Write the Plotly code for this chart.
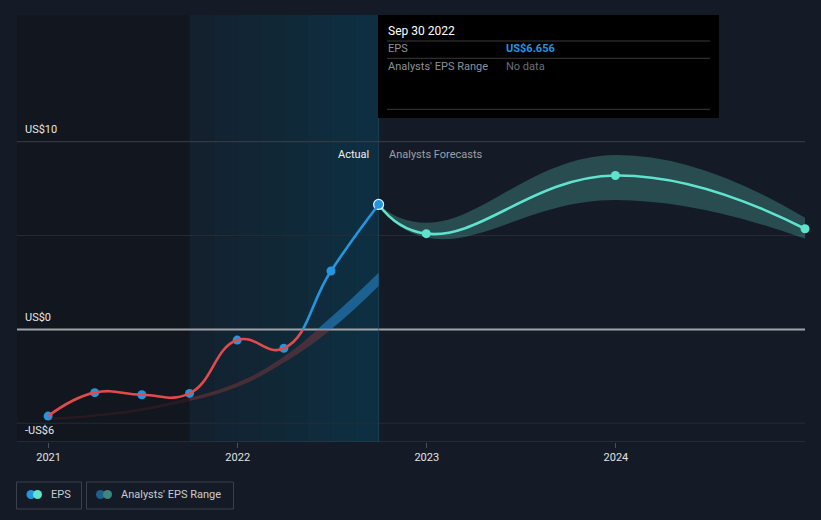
import plotly.graph_objects as go

# ---------------- data ----------------
eps_dates = ["2020-12-31", "2021-03-31", "2021-06-30", "2021-09-30",
             "2021-12-31", "2022-03-31", "2022-06-30", "2022-09-30"]
eps_values = [-4.62, -3.37, -3.48, -3.41, -0.57, -1.01, 3.11, 6.656]

hist_range_low = [-4.83, -4.65, -4.35, -3.82, -3.07, -1.77, 0.00, 2.31]
hist_range_high = [-4.70, -4.53, -4.19, -3.64, -2.84, -1.45, 0.64, 3.02]

fc_dates = ["2022-09-30", "2022-12-31", "2023-12-31", "2024-12-31"]
fc_values = [6.656, 5.10, 8.20, 5.36]
fc_low = [6.656, 4.89, 6.89, 4.83]
fc_high = [6.656, 5.68, 9.29, 5.95]

year_ticks = ["2021-01-01", "2022-01-01", "2023-01-01", "2024-01-01"]
year_labels = ["2021", "2022", "2023", "2024"]
y_labels = [(10, "US$10"), (0, "US$0"), (-6, "-US$6")]

# ---------------- geometry ----------------
W, H = 821, 520
L, R, T, B = 17, 16, 15, 78
PW, PH = W - L - R, H - T - B
Y0, Y1 = -6, 16.75
Z = (0 - Y0) / (Y1 - Y0)
X_RANGE = ["2020-11-01", "2024-12-31"]

BG = "#151b26"
RED = "#e04c4c"
BLUE = "#2496e0"
TURQ = "#5fe3cc"
SM = 1.3


def px(x):
    return (x - L) / PW


def py(y):
    return (T + PH - y) / PH


def sline(width=0, color=None):
    d = dict(width=width, shape="spline", smoothing=SM, simplify=False)
    if color:
        d["color"] = color
    return d


fig = go.Figure()

# historical range band (red part clipped to negatives on y3, blue part clipped to positives on y2)
seg = [(0, 4, "rgba(190,60,60,0.14)"), (3, 8, "rgba(200,65,65,0.30)")]
for a, b, col in seg:
    fig.add_trace(go.Scatter(x=eps_dates[a:b], y=hist_range_low[a:b], yaxis="y3",
                             mode="lines", line=sline(),
                             hoverinfo="skip", showlegend=False))
    fig.add_trace(go.Scatter(x=eps_dates[a:b], y=hist_range_high[a:b], yaxis="y3",
                             mode="lines", line=sline(),
                             fill="tonexty", fillcolor=col, hoverinfo="skip", showlegend=False))
fig.add_trace(go.Scatter(x=eps_dates, y=hist_range_low, yaxis="y2", mode="lines",
                         line=sline(), hoverinfo="skip", showlegend=False))
fig.add_trace(go.Scatter(x=eps_dates, y=hist_range_high, yaxis="y2", mode="lines",
                         line=sline(), fill="tonexty", fillcolor="rgba(40,140,215,0.55)",
                         hoverinfo="skip", showlegend=False))

# forecast band
fig.add_trace(go.Scatter(x=fc_dates, y=fc_low, mode="lines", line=sline(),
                         hoverinfo="skip", showlegend=False))
fig.add_trace(go.Scatter(x=fc_dates, y=fc_high, mode="lines", line=sline(),
                         fill="tonexty", fillcolor="rgba(88,205,190,0.28)",
                         hoverinfo="skip", showlegend=False))

# EPS line, red below zero, blue above zero
fig.add_trace(go.Scatter(x=eps_dates, y=eps_values, yaxis="y3", mode="lines",
                         line=sline(2.6, RED), hoverinfo="skip", showlegend=False))
fig.add_trace(go.Scatter(x=eps_dates, y=eps_values, yaxis="y2", mode="lines",
                         line=sline(2.6, BLUE), hoverinfo="skip", showlegend=False))

# forecast line
fig.add_trace(go.Scatter(x=fc_dates, y=fc_values, mode="lines",
                         line=sline(2.6, TURQ), hoverinfo="skip", showlegend=False))
fig.add_trace(go.Scatter(x=fc_dates[1:], y=fc_values[1:], mode="markers",
                         marker=dict(size=9, color=TURQ, line=dict(width=0)), cliponaxis=False,
                         hoverinfo="skip", showlegend=False))

# EPS markers
fig.add_trace(go.Scatter(x=eps_dates[:-1], y=eps_values[:-1], mode="markers",
                         marker=dict(size=9, color=BLUE, line=dict(width=0)), cliponaxis=False,
                         hoverinfo="skip", showlegend=False))
fig.add_trace(go.Scatter(x=eps_dates[-1:], y=eps_values[-1:], mode="markers",
                         marker=dict(size=10, color=BLUE, line=dict(color="#e8f4ff", width=1.2)),
                         cliponaxis=False, hoverinfo="skip", showlegend=False))

shapes = []
# darker past region
shapes.append(dict(type="rect", xref="x", yref="paper", x0=X_RANGE[0], x1="2021-09-30",
                   y0=0, y1=1, fillcolor="rgba(0,0,0,0.18)", line_width=0, layer="below"))
# teal gradient region (strips)
strip_dates = ["2021-09-30", "2021-11-15", "2021-12-31", "2022-02-15", "2022-03-31",
               "2022-05-15", "2022-06-30", "2022-08-15", "2022-09-30"]
for i in range(len(strip_dates) - 1):
    a = 0.14 + 0.045 * i
    shapes.append(dict(type="rect", xref="x", yref="paper", x0=strip_dates[i],
                       x1=strip_dates[i + 1], y0=0, y1=1,
                       fillcolor=f"rgba(5,72,98,{a:.3f})", line_width=0, layer="below"))
# gridlines
for yv, col, w in [(10, "#3a404b", 1), (5, "#262c37", 1), (-5, "#262c37", 1),
                   (-6, "#3a404b", 1), (0, "#a0a4aa", 2)]:
    shapes.append(dict(type="line", xref="paper", yref="y", x0=0, x1=1, y0=yv, y1=yv,
                       line=dict(color=col, width=w), layer="below"))
# vertical current-date line
shapes.append(dict(type="line", xref="x", yref="paper", x0="2022-09-30", x1="2022-09-30",
                   y0=0, y1=py(15), line=dict(color="rgba(30,80,100,0.6)", width=1),
                   layer="below"))
# tooltip box
shapes.append(dict(type="rect", xref="paper", yref="paper", x0=px(378), x1=px(719),
                   y0=py(118), y1=py(15), fillcolor="#000000", line_width=0, layer="above"))
for yy in [41, 58.3, 109.3]:
    shapes.append(dict(type="line", xref="paper", yref="paper", x0=px(387), x1=px(710),
                       y0=py(yy), y1=py(yy), line=dict(color="#3a3a3a", width=1),
                       layer="above"))
# legend boxes
for x0, x1 in [(16.5, 81.5), (86.5, 233.5)]:
    shapes.append(dict(type="rect", xref="paper", yref="paper", x0=px(x0), x1=px(x1),
                       y0=py(509), y1=py(482), line=dict(color="#3b414c", width=1),
                       fillcolor="rgba(0,0,0,0)"))
for cx, col in [(31, BLUE), (37.5, TURQ), (100.5, "#1f5f8c"), (107.5, "#3e877e")]:
    shapes.append(dict(type="circle", xref="paper", yref="paper",
                       x0=px(cx - 4.5), x1=px(cx + 4.5), y0=py(499), y1=py(490),
                       fillcolor=col, line_width=0))

ann = []
for yv, txt in y_labels:
    ypix = T + PH * (Y1 - yv) / (Y1 - Y0)
    ypos = ypix - 12
    ann.append(dict(x=px(23), y=py(ypos), xref="paper", yref="paper", text=txt,
                    showarrow=False, xanchor="left", yanchor="middle",
                    font=dict(size=11, color="#e6e8ea")))
ann.append(dict(x=px(371), y=py(154), xref="paper", yref="paper", text="Actual",
                showarrow=False, xanchor="right", yanchor="middle",
                font=dict(size=11, color="#f0f0f0")))
ann.append(dict(x=px(387), y=py(154), xref="paper", yref="paper", text="Analysts Forecasts",
                showarrow=False, xanchor="left", yanchor="middle",
                font=dict(size=11, color="#9aa0a8")))
# tooltip text
ann.append(dict(x=px(386), y=py(31), xref="paper", yref="paper", text="Sep 30 2022",
                showarrow=False, xanchor="left", yanchor="middle",
                font=dict(size=12, color="#ffffff")))
ann.append(dict(x=px(386), y=py(48.5), xref="paper", yref="paper", text="EPS",
                showarrow=False, xanchor="left", yanchor="middle",
                font=dict(size=11, color="#8c9198")))
ann.append(dict(x=px(504), y=py(48.5), xref="paper", yref="paper", text="<b>US$6.656</b>",
                showarrow=False, xanchor="left", yanchor="middle",
                font=dict(size=11, color=BLUE)))
ann.append(dict(x=px(386), y=py(66.5), xref="paper", yref="paper", text="Analysts' EPS Range",
                showarrow=False, xanchor="left", yanchor="middle",
                font=dict(size=11, color="#8c9198")))
ann.append(dict(x=px(504), y=py(66.5), xref="paper", yref="paper", text="No data",
                showarrow=False, xanchor="left", yanchor="middle",
                font=dict(size=11, color="#6a6f77")))
# legend text
ann.append(dict(x=px(49), y=py(494.5), xref="paper", yref="paper", text="EPS",
                showarrow=False, xanchor="left", yanchor="middle",
                font=dict(size=11, color="#c8ccd2")))
ann.append(dict(x=px(119), y=py(494.5), xref="paper", yref="paper", text="Analysts' EPS Range",
                showarrow=False, xanchor="left", yanchor="middle",
                font=dict(size=11, color="#c8ccd2")))

fig.update_layout(
    width=W, height=H, margin=dict(l=L, r=R, t=T, b=B),
    paper_bgcolor=BG, plot_bgcolor="rgba(0,0,0,0)",
    font=dict(family="Roboto, 'Noto Sans', sans-serif"),
    showlegend=False, hovermode=False,
    shapes=shapes, annotations=ann,
    xaxis=dict(type="date", range=X_RANGE, showgrid=False, zeroline=False, showline=False,
               tickvals=year_ticks, ticktext=year_labels, ticks="outside", ticklen=5,
               tickcolor="#4a505a", tickfont=dict(size=11, color="#e0e2e4")),
    yaxis=dict(range=[Y0, Y1], domain=[0, 1], visible=False, fixedrange=True),
    yaxis2=dict(range=[0, Y1], domain=[Z, 1], anchor="x", visible=False),
    yaxis3=dict(range=[Y0, 0], domain=[0, Z], anchor="x", visible=False),
)

fig.write_html("out.html", config={"displayModeBar": False},
               post_script="document.body.style.margin='0';"
                           "document.body.style.background='#151b26';")
